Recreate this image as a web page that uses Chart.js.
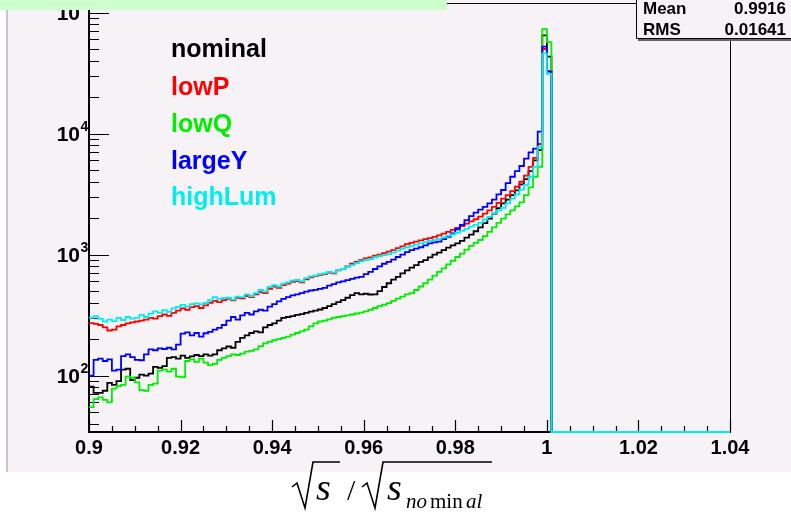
<!DOCTYPE html>
<html>
<head>
<meta charset="utf-8">
<script src="https://cdn.jsdelivr.net/npm/chart.js@4.4.0/dist/chart.umd.min.js"></script>
<style>
  html, body { margin: 0; padding: 0; background: #fff; }
  canvas { display: block; }
</style>
</head>
<body>
<canvas id="myChart" width="791" height="514"></canvas>
<script>
// histogram binning: 140 bins of 0.001 from 0.9 to 1.04
const binLow = 0.9;
const binWidth = 0.001;
const nBins = 140;

// bin contents (bins after 1.001 are empty)
const nominal = [81,72,72,75,87,84,90,112,114,92,
  96,102,100,104,118,116,120,140,142,138,
  146,140,144,148,145,150,146,150,162,168,
  174,170,190,205,215,225,232,228,250,262,
  270,285,300,305,310,318,322,330,338,345,
  352,362,375,390,405,420,440,462,480,470,
  475,468,470,500,540,580,620,655,700,740,
  780,820,870,900,950,1000,1040,1090,1140,1190,
  1240,1300,1380,1460,1560,1680,1820,1980,2180,2420,
  2650,2850,3100,3400,3800,4200,4900,6000,7300,64700,
  43300];

const lowP = [272,268,262,250,236,240,255,262,270,275,
  280,285,290,300,296,310,320,312,330,345,
  360,350,368,375,362,380,400,415,405,420,
  430,418,440,436,455,445,470,490,480,520,
  545,530,560,575,595,605,590,625,650,665,
  680,690,710,700,740,760,800,840,870,900,
  930,950,980,1000,1030,1060,1090,1130,1170,1220,
  1250,1280,1310,1340,1370,1400,1440,1490,1540,1600,
  1660,1720,1800,1880,1960,2060,2180,2320,2480,2680,
  2900,3100,3350,3650,4000,4500,5300,6300,8200,50000,
  33000];

const lowQ = [55,64,66,63,60,78,82,84,98,96,
  88,76,75,84,86,110,112,108,114,98,
  97,132,136,130,138,128,122,125,135,140,
  145,150,148,152,158,160,165,175,185,190,
  196,200,205,210,218,225,232,240,255,270,
  280,285,292,300,305,310,315,320,326,332,
  340,350,362,375,385,397,415,432,450,470,
  480,510,545,580,620,670,720,770,830,890,
  955,1020,1100,1180,1250,1320,1420,1540,1680,1830,
  1980,2150,2320,2500,2700,3100,3600,4400,5300,73000,
  57000];

const largeY = [100,135,138,132,136,110,112,145,150,142,
  135,134,150,165,162,168,166,170,165,180,
  222,228,215,225,210,224,230,240,248,262,
  285,305,290,315,330,320,340,350,345,372,
  390,410,430,445,460,470,480,495,505,512,
  520,530,555,570,590,600,615,630,645,655,
  690,720,760,800,840,870,910,955,1000,1050,
  1090,1120,1150,1190,1240,1260,1280,1340,1400,1500,
  1620,1760,1930,2080,2220,2350,2480,2650,2850,3150,
  3420,3900,4400,4900,5400,6200,7000,7500,10400,52400,
  32500];

const highLum = [300,310,295,280,290,282,300,288,305,296,
  300,318,305,325,340,330,348,336,360,370,
  384,372,390,395,388,398,420,445,430,438,
  440,425,450,445,470,455,480,510,495,540,
  560,545,575,590,610,617,600,640,660,670,
  690,700,720,710,745,760,790,820,850,880,
  900,920,950,970,990,1010,1040,1080,1120,1150,
  1180,1210,1240,1270,1300,1320,1350,1390,1430,1470,
  1510,1570,1630,1700,1760,1830,1950,2050,2200,2320,
  2430,2650,2900,3150,3450,3770,4400,5300,7800,46100,
  31100];

const seriesNames = ['nominal', 'lowP', 'lowQ', 'largeY', 'highLum'];
const seriesValues = [nominal, lowP, lowQ, largeY, highLum];
const seriesColors = ['#000000', '#ff0000', '#00ee00', '#0000ff', '#00eeee'];

const xTicks = [0.9, 0.92, 0.94, 0.96, 0.98, 1.0, 1.02, 1.04];
const xTickLabels = ['0.9', '0.92', '0.94', '0.96', '0.98', '1', '1.02', '1.04'];
const yTicks = [100, 1000, 10000, 100000];
const yTickExps = ['2', '3', '4', '5'];

const statNames = ['Mean', 'RMS'];
const statValues = ['0.9916', '0.01641'];

const yMin = 34.2;
const yMax = 120000;
const padColor = '#f6f2f6';

// turn bin contents into step-line points at the bin low edges
function histPoints(vals) {
  const pts = [];
  for (let i = 0; i < nBins; i++) {
    const v = i < vals.length ? vals[i] : 0;
    pts.push({ x: binLow + i * binWidth, y: v > 0 ? v : yMin });
  }
  pts.push({ x: binLow + nBins * binWidth, y: pts[pts.length - 1].y });
  return pts;
}

const datasets = seriesNames.map((name, i) => ({
  label: name,
  data: histPoints(seriesValues[i]),
  borderColor: seriesColors[i],
  borderWidth: 1.8,
  stepped: 'before',
  pointRadius: 0,
  fill: false,
  clip: 4,
  order: seriesNames.length - i
}));

const sans = '"Liberation Sans", Arial, Helvetica, sans-serif';
const serif = '"Liberation Serif", "Times New Roman", serif';

const rootStyle = {
  id: 'rootStyle',
  beforeDraw(chart) {
    const ctx = chart.ctx;
    ctx.save();
    ctx.fillStyle = '#ffffff';
    ctx.fillRect(0, 0, chart.width, chart.height);
    ctx.fillStyle = padColor;
    ctx.fillRect(7, 0, chart.width - 7, 472);
    ctx.strokeStyle = '#c8c4c8';
    ctx.lineWidth = 2;
    ctx.beginPath();
    ctx.moveTo(7, 0);
    ctx.lineTo(7, 472);
    ctx.stroke();
    ctx.restore();
  },
  beforeDatasetsDraw(chart) {
    const ctx = chart.ctx;
    const a = chart.chartArea;
    const xs = chart.scales.x;
    const ys = chart.scales.y;
    ctx.save();

    // frame
    ctx.strokeStyle = '#000';
    ctx.lineWidth = 1;
    ctx.strokeRect(a.left + 0.5, a.top + 0.5, a.right - a.left, a.bottom - a.top);
    ctx.lineWidth = 2;
    ctx.beginPath();
    ctx.moveTo(a.left, a.top);
    ctx.lineTo(a.left, a.bottom);
    ctx.lineTo(a.right, a.bottom);
    ctx.stroke();

    // x ticks (inside), major every 0.02, minor every 0.005
    ctx.lineWidth = 1.2;
    ctx.beginPath();
    for (let k = 0; k <= 28; k++) {
      const px = Math.round(xs.getPixelForValue(0.9 + k * 0.005)) + 0.5;
      const len = k % 4 === 0 ? 12 : 6;
      ctx.moveTo(px, a.bottom);
      ctx.lineTo(px, a.bottom - len);
    }
    // y ticks (inside), major at decades, minor at 2..9
    for (let d = 1; d <= 5; d++) {
      for (let m = 1; m <= 9; m++) {
        const v = m * Math.pow(10, d);
        if (v < yMin || v > yMax) continue;
        const py = Math.round(ys.getPixelForValue(v)) + 0.5;
        const len = m === 1 ? 20 : 10;
        ctx.moveTo(a.left, py);
        ctx.lineTo(a.left + len, py);
      }
    }
    ctx.stroke();
    ctx.restore();
  },
  afterDatasetsDraw(chart) {
    const ctx = chart.ctx;
    const xs = chart.scales.x;
    const ys = chart.scales.y;
    ctx.save();

    // x tick labels
    ctx.fillStyle = '#000';
    ctx.font = 'bold 20px ' + sans;
    ctx.textAlign = 'center';
    ctx.textBaseline = 'middle';
    xTicks.forEach((t, i) => {
      ctx.fillText(xTickLabels[i], xs.getPixelForValue(t), 448);
    });

    // y tick labels 10^n
    yTicks.forEach((t, i) => {
      const py = ys.getPixelForValue(t);
      ctx.font = 'bold 21px ' + sans;
      ctx.textAlign = 'right';
      ctx.textBaseline = 'middle';
      ctx.fillText('10', 80, py + 2);
      ctx.font = 'bold 14px ' + sans;
      ctx.textAlign = 'left';
      ctx.fillText(yTickExps[i], 80.5, py - 6);
    });

    // legend text
    const legendY = [50, 88, 125, 162, 198];
    ctx.font = 'bold 25px ' + sans;
    ctx.textAlign = 'left';
    ctx.textBaseline = 'middle';
    seriesNames.forEach((name, i) => {
      ctx.fillStyle = seriesColors[i];
      ctx.fillText(name, 171, legendY[i]);
    });

    // title box remnant (top)
    ctx.fillStyle = '#ccffcc';
    ctx.fillRect(0, 0, 447, 10);

    // stats box
    ctx.fillStyle = padColor;
    ctx.fillRect(636, 0, 155, 38);
    ctx.strokeStyle = '#000';
    ctx.lineWidth = 1;
    ctx.beginPath();
    ctx.moveTo(636.5, 0);
    ctx.lineTo(636.5, 38.5);
    ctx.lineTo(791, 38.5);
    ctx.stroke();
    ctx.strokeStyle = '#666';
    ctx.lineWidth = 2;
    ctx.beginPath();
    ctx.moveTo(638, 40);
    ctx.lineTo(791, 40);
    ctx.stroke();
    ctx.fillStyle = '#000';
    ctx.font = 'bold 17px ' + sans;
    ctx.textBaseline = 'middle';
    statNames.forEach((n, i) => {
      ctx.textAlign = 'left';
      ctx.fillText(n, 643, 9 + i * 21);
      ctx.textAlign = 'right';
      ctx.fillText(statValues[i], 786, 9 + i * 21);
    });

    // x axis title: sqrt(s) / sqrt(s_nominal)
    ctx.strokeStyle = '#000';
    ctx.fillStyle = '#000';
    ctx.lineWidth = 1.6;
    ctx.lineJoin = 'miter';
    ctx.beginPath();
    ctx.moveTo(292, 487);
    ctx.lineTo(297, 483);
    ctx.lineTo(305, 508);
    ctx.lineTo(313, 462);
    ctx.lineTo(340, 462);
    ctx.moveTo(362, 487);
    ctx.lineTo(367, 483);
    ctx.lineTo(375, 508);
    ctx.lineTo(383, 462);
    ctx.lineTo(492, 462);
    ctx.stroke();
    ctx.textAlign = 'left';
    ctx.textBaseline = 'alphabetic';
    ctx.font = 'italic 38px ' + serif;
    ctx.fillText('s', 316, 500);
    ctx.fillText('s', 387, 500);
    ctx.font = '30px ' + serif;
    ctx.fillText('/', 347, 500);
    ctx.font = 'italic 21px ' + serif;
    ctx.fillText('no', 406, 508);
    ctx.font = '21px ' + serif;
    ctx.fillText('min', 430, 508);
    ctx.font = 'italic 21px ' + serif;
    ctx.fillText('al', 466, 508);

    ctx.restore();
  }
};

const ctx = document.getElementById('myChart').getContext('2d');
const myChart = new Chart(ctx, {
  type: 'line',
  data: { datasets: datasets },
  options: {
    responsive: false,
    devicePixelRatio: 1,
    animation: false,
    events: [],
    layout: { padding: { left: 89, top: 3, right: 61, bottom: 82 } },
    scales: {
      x: { type: 'linear', min: binLow, max: binLow + nBins * binWidth, display: false },
      y: { type: 'logarithmic', min: yMin, max: yMax, display: false }
    },
    plugins: {
      legend: { display: false },
      tooltip: { enabled: false }
    }
  },
  plugins: [rootStyle]
});
</script>
</body>
</html>
